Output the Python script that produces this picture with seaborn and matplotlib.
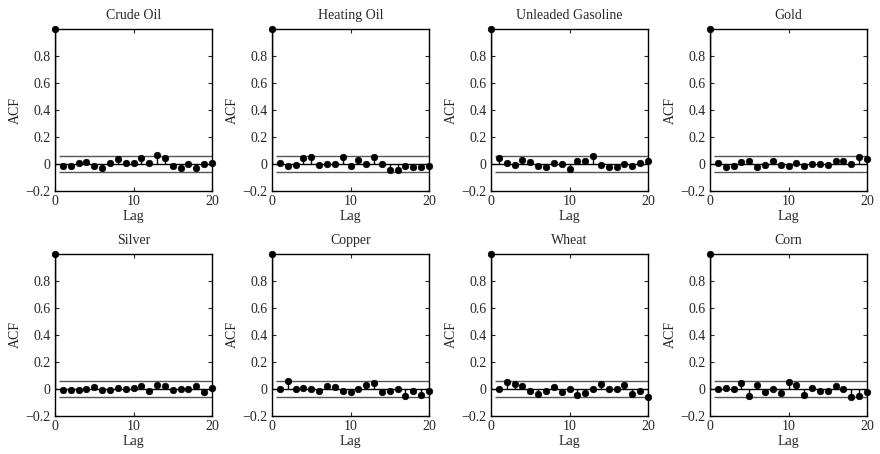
import matplotlib
matplotlib.use("Agg")
import matplotlib.pyplot as plt
import seaborn as sns
import numpy as np
import pandas as pd

names = ["Crude Oil", "Heating Oil", "Unleaded Gasoline", "Gold",
         "Silver", "Copper", "Wheat", "Corn"]
lags = list(range(0, 21))
crude_oil = [1.0, -0.012, -0.017, 0.007, 0.012, -0.015, -0.027, 0.007, 0.035, 0.007, 0.007,
             0.042, 0.010, 0.067, 0.045, -0.017, -0.027, 0.000, -0.027, 0.000, 0.007]
heating_oil = [1.0, 0.005, -0.017, -0.010, 0.045, 0.055, -0.005, 0.000, 0.002, 0.050, -0.017,
               0.030, 0.000, 0.050, 0.002, -0.045, -0.042, -0.012, -0.020, -0.022, -0.015]
unleaded_gasoline = [1.0, 0.047, 0.005, -0.007, 0.030, 0.015, -0.012, -0.020, 0.010, 0.000, -0.040,
                     0.020, 0.022, 0.057, -0.007, -0.025, -0.025, 0.002, -0.012, 0.010, 0.025]
gold = [1.0, 0.007, -0.022, -0.012, 0.015, 0.025, -0.020, -0.007, 0.020, -0.007, -0.015,
        0.010, -0.015, -0.002, -0.002, -0.007, 0.020, 0.020, 0.000, 0.055, 0.035]
silver = [1.0, -0.010, -0.007, -0.010, -0.002, 0.015, -0.010, -0.007, 0.007, -0.002, 0.007,
          0.020, -0.015, 0.027, 0.025, -0.010, 0.002, 0.002, 0.025, -0.020, 0.007]
copper = [1.0, 0.000, 0.057, 0.002, 0.010, -0.002, -0.012, 0.025, 0.015, -0.012, -0.020,
          0.002, 0.032, 0.042, -0.025, -0.012, 0.002, -0.052, -0.012, -0.042, -0.017]
wheat = [1.0, -0.002, 0.050, 0.040, 0.020, -0.012, -0.037, -0.012, 0.015, -0.025, 0.000,
         -0.042, -0.027, 0.002, 0.040, -0.002, 0.000, 0.030, -0.040, -0.012, -0.057]
corn = [1.0, -0.002, 0.007, -0.002, 0.045, -0.050, 0.027, -0.025, -0.002, -0.030, 0.050,
        0.032, -0.042, 0.005, -0.017, -0.017, 0.020, 0.002, -0.057, -0.052, -0.025]
series = [crude_oil, heating_oil, unleaded_gasoline, gold, silver, copper, wheat, corn]
conf_bound = 0.057
xticks = [0, 10, 20]
yticks = [-0.2, 0, 0.2, 0.4, 0.6, 0.8]
ytick_labels = ["\u22120.2", "0", "0.2", "0.4", "0.6", "0.8"]

sns.set_style("ticks")
plt.rcParams["font.family"] = ["Liberation Serif", "DejaVu Serif"]
plt.rcParams["xtick.direction"] = "in"
plt.rcParams["ytick.direction"] = "in"

fig = plt.figure(figsize=(8.8, 4.54), dpi=100)
lefts = [55, 272, 491, 710]
width = 157
tops = [29, 254]
height = 162
W, H = 880, 454

for i, (name, vals) in enumerate(zip(names, series)):
    r, c = divmod(i, 4)
    ax = fig.add_axes([lefts[c] / W, 1 - (tops[r] + height) / H, width / W, height / H])
    df = pd.DataFrame({"Lag": lags, "ACF": vals})
    ax.axhline(0, color="black", lw=1.0, zorder=1)
    ax.hlines([conf_bound, -conf_bound], 0.5, 20, color="#555555", lw=1.0, zorder=1)
    ax.vlines(df["Lag"], 0, df["ACF"], color="black", lw=1.0, zorder=2)
    sns.scatterplot(data=df, x="Lag", y="ACF", ax=ax, color="black", s=22,
                    edgecolor="black", linewidth=0.5, zorder=3, clip_on=False, legend=False)
    ax.set_xlim(0, 20)
    ax.set_ylim(-0.2, 1.0)
    ax.set_xticks(xticks)
    ax.set_yticks(yticks)
    ax.set_yticklabels(ytick_labels)
    ax.tick_params(labelsize=10, top=True, right=True, length=3, width=0.8, pad=3)
    ax.set_xlabel("Lag", fontsize=10, labelpad=1)
    ax.set_ylabel("ACF", fontsize=10, labelpad=3)
    ax.set_title(name, fontsize=10, pad=7)
    for sp in ax.spines.values():
        sp.set_color("black")
        sp.set_linewidth(1.0)

fig.savefig("out.png", dpi=100)
